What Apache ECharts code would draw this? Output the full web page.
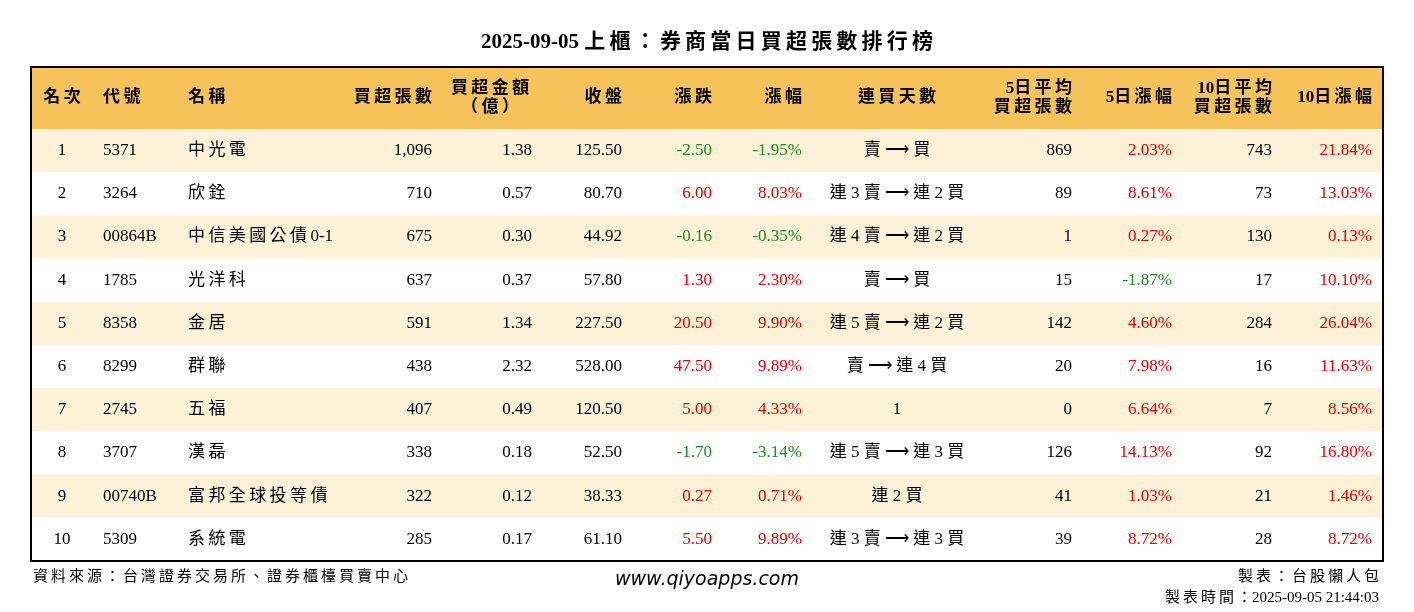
<!DOCTYPE html>
<html><head><meta charset="utf-8">
<script src="https://cdn.jsdelivr.net/npm/echarts@6/dist/echarts.min.js"></script>
<style>html,body{margin:0;padding:0;background:#fff}#container{width:1414px;height:612px}</style>
</head><body><div id="container"></div>
<script>
// 表格資料
var headers = ['名次','代號','名稱','買超張數','買超金額\n（億）','收盤','漲跌','漲幅','連買天數','5日平均\n買超張數','5日漲幅','10日平均\n買超張數','10日漲幅'];
var ranks = ['1','2','3','4','5','6','7','8','9','10'];
var codes = ['5371','3264','00864B','1785','8358','8299','2745','3707','00740B','5309'];
var names = ['中光電','欣銓','中信美國公債0-1','光洋科','金居','群聯','五福','漢磊','富邦全球投等債','系統電'];
var buyVol = ['1,096','710','675','637','591','438','407','338','322','285'];
var buyAmt = ['1.38','0.57','0.30','0.37','1.34','2.32','0.49','0.18','0.12','0.17'];
var closes = ['125.50','80.70','44.92','57.80','227.50','528.00','120.50','52.50','38.33','61.10'];
var changes = [-2.50,6.00,-0.16,1.30,20.50,47.50,5.00,-1.70,0.27,5.50];
var pcts = [-1.95,8.03,-0.35,2.30,9.90,9.89,4.33,-3.14,0.71,9.89];
var streak = ['賣 → 買','連 3 賣 → 連 2 買','連 4 賣 → 連 2 買','賣 → 買','連 5 賣 → 連 2 買','賣 → 連 4 買','1','連 5 賣 → 連 3 買','連 2 買','連 3 賣 → 連 3 買'];
var avg5 = ['869','89','1','15','142','20','0','126','41','39'];
var pct5 = [2.03,8.61,0.27,-1.87,4.60,7.98,6.64,14.13,1.03,8.72];
var avg10 = ['743','73','130','17','284','16','7','92','21','28'];
var pct10 = [21.84,13.03,0.13,10.10,26.04,11.63,8.56,16.80,1.46,8.72];

var colX = [62,103,188,432,532,622,712,802,897,1072,1172,1272,1372];
var colAlign = ['center','left','left','right','right','right','right','right','center','right','right','right','right'];
var hdrX = [62,103,188,432,490,622,712,802,897,1072,1172,1272,1372];
var hdrAlign = ['center','left','left','right','center','right','right','right','center','right','right','right','right'];

var FONT = '"Liberation Serif","Noto Sans CJK TC",serif';
var RED = '#e60000', GREEN = '#14901e';
function col(v){ return v < 0 ? GREEN : RED; }
// 中文字之間加空隙，模仿原圖較寬的字距
function sp(s){ return s.replace(/([\u3000-\u9fff\uff00-\uffef])(?=[^\s\n])/g, '$1\u2009').replace(/→/g,'⟶'); }

var tblLeft = 31, tblRight = 1383, tblTop = 67, hdrH = 62, rowH = 43.2;
var g = [];
g.push({type:'text', x:707, y:43, style:{text:sp('2025-09-05 上櫃：券商當日買超張數排行榜'), font:'bold 21px '+FONT, fill:'#000', align:'center', verticalAlign:'middle'}});
g.push({type:'rect', shape:{x:tblLeft,y:tblTop,width:tblRight-tblLeft,height:hdrH}, style:{fill:'#f6c35a'}});
for (var i = 0; i < 10; i++) {
    g.push({type:'rect', shape:{x:tblLeft,y:tblTop+hdrH+i*rowH,width:tblRight-tblLeft,height:rowH}, style:{fill: i%2===0 ? '#fdf2d8' : '#ffffff'}});
}
for (var c = 0; c < headers.length; c++) {
    g.push({type:'text', x:hdrX[c], y:tblTop+hdrH/2, style:{text:sp(headers[c]), font:'600 17px '+FONT, fill:'#000', align:hdrAlign[c], verticalAlign:'middle', lineHeight:19}});
}
for (var r = 0; r < 10; r++) {
    var cells = [
        [ranks[r],'#000'],[codes[r],'#000'],[names[r],'#000'],[buyVol[r],'#000'],[buyAmt[r],'#000'],[closes[r],'#000'],
        [changes[r].toFixed(2),col(changes[r])],[pcts[r].toFixed(2)+'%',col(pcts[r])],[streak[r],'#000'],
        [avg5[r],'#000'],[pct5[r].toFixed(2)+'%',col(pct5[r])],[avg10[r],'#000'],[pct10[r].toFixed(2)+'%',col(pct10[r])]
    ];
    var cy = tblTop+hdrH+r*rowH+rowH/2;
    for (var c = 0; c < cells.length; c++) {
        g.push({type:'text', x:colX[c], y:cy, style:{text:sp(cells[c][0]), font:'17px '+FONT, fill:cells[c][1], align:colAlign[c], verticalAlign:'middle'}});
    }
}
g.push({type:'rect', shape:{x:tblLeft,y:tblTop,width:tblRight-tblLeft,height:hdrH+10*rowH}, style:{fill:'none', stroke:'#000', lineWidth:2}});
// 頁尾
g.push({type:'text', x:33, y:577, style:{text:sp('資料來源：台灣證券交易所、證券櫃檯買賣中心'), font:'15px '+FONT, fill:'#000', verticalAlign:'middle'}});
g.push({type:'text', x:707, y:580, style:{text:'www.qiyoapps.com', font:'italic 19px "DejaVu Sans",sans-serif', fill:'#000', align:'center', verticalAlign:'middle'}});
g.push({type:'text', x:1379, y:577, style:{text:sp('製表：台股懶人包'), font:'15px '+FONT, fill:'#000', align:'right', verticalAlign:'middle'}});
g.push({type:'text', x:1379, y:598, style:{text:sp('製表時間：')+'2025-09-05 21:44:03', font:'15px '+FONT, fill:'#000', align:'right', verticalAlign:'middle'}});

var myChart = echarts.init(document.getElementById('container'));
myChart.setOption({backgroundColor:'#fff', animation:false, graphic:{elements:g}});
</script></body></html>
